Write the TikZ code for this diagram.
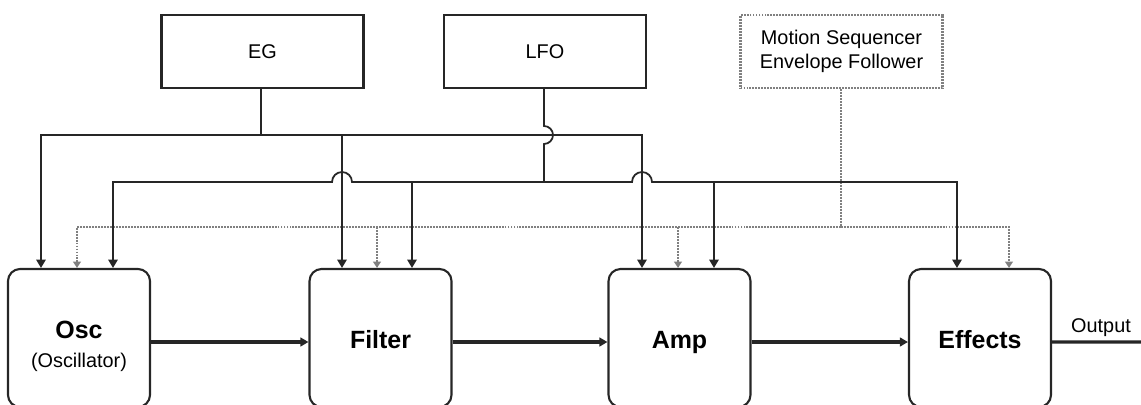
\documentclass[tikz,border=0pt]{standalone}
\usepackage{fontspec}
\setmainfont{Liberation Sans}
\usetikzlibrary{arrows.meta,calc}
\definecolor{dotgray}{HTML}{808080}
\begin{document}
\begin{tikzpicture}[x=0.02cm,y=-0.02cm,
  txt/.style={inner sep=0pt,font=\fontsize{11.3}{13.6}\selectfont},
  bigtxt/.style={inner sep=0pt,font=\fontsize{14.2}{17}\selectfont\bfseries},
  modbox/.style={draw=black!85,line width=1.2pt,minimum width=4.04cm,minimum height=1.46cm,inner sep=0pt,align=center,font=\fontsize{11.3}{13.6}\selectfont},
  motbox/.style={modbox,draw=dotgray,line width=1.4pt,dash pattern=on 1.1pt off 0.6pt},
  blk/.style={draw=black!85,rounded corners=0.24cm,line width=1.2pt,minimum width=2.84cm,minimum height=2.76cm,inner sep=0pt},
  ctl/.style={draw=black!85,line width=1pt},
  ctlarr/.style={ctl,-{Triangle[length=4.8pt,width=5.4pt]}},
  mot/.style={draw=dotgray,line width=1.4pt,dash pattern=on 1.1pt off 0.6pt},
  motarr/.style={mot,-{Triangle[length=3.6pt,width=4.4pt]}},
  sig/.style={draw=black!85,line width=1.8pt},
  sigarr/.style={sig,-{Triangle[length=4.6pt,width=5pt]}}
]
\useasboundingbox (0,0) rectangle (1141,405);
\clip (0,0) rectangle (1141,405);

% source boxes
\node[modbox] (eg) at (262.5,51.5) {EG};
\node[modbox] (lfo) at (545,51.5) {LFO};
\node[motbox] (ms) at (841.5,51.5) {Motion Sequencer\\Envelope Follower};

% signal blocks
\node[blk] (osc) at (79,338) {};
\node[blk] (filter) at (380.5,338) {};
\node[blk] (amp) at (679.5,338) {};
\node[blk] (effects) at (980,338) {};

\node[bigtxt,anchor=base] (osct) at (79,338) {Osc};
\node[txt,anchor=base] (osct2) at (79,367) {(Oscillator)};
\node[bigtxt,anchor=base] (filtert) at (380.5,348) {Filter};
\node[bigtxt,anchor=base] (ampt) at (679.5,348) {Amp};
\node[bigtxt,anchor=base] (effectst) at (980,348) {Effects};
\node[txt,anchor=base] (outt) at (1101,332) {Output};

% coordinates
\coordinate (ej) at (261,135);
\coordinate (e1) at (41,135);
\coordinate (e2) at (342,135);
\coordinate (e3) at (642,135);
\coordinate (l0) at (544,182);
\coordinate (l1) at (113,182);
\coordinate (l2) at (412,182);
\coordinate (l3) at (714,182);
\coordinate (l4) at (957,182);
\coordinate (m0) at (841,227);
\coordinate (m1) at (77,227);
\coordinate (m2) at (377,227);
\coordinate (m3) at (678,227);
\coordinate (m4) at (1009,227);
\coordinate (outend) at (1141,342);

% motion sequencer (dotted) bus
\draw[mot] (m0 |- ms.south) -- (m0);
\draw[motarr] (m0) -- (m1) -- (m1 |- osc.north);
\draw[motarr] (m0) -- (m4) -- (m4 |- effects.north);
\draw[motarr] (m2) -- (m2 |- filter.north);
\draw[motarr] (m3) -- (m3 |- amp.north);

% EG bus
\draw[ctl] (ej |- eg.south) -- (ej);
\draw[ctlarr] (ej) -- (e1) -- (e1 |- osc.north);
\draw[ctlarr] (ej) -- (e3) -- (e3 |- amp.north);
\draw[ctlarr] (e2) -- (e2 |- filter.north);

% LFO bus
\draw[ctl] (l0 |- lfo.south) -- (544,126) arc[start angle=90,end angle=-90,radius=0.18cm] -- (l0);
\draw[ctlarr] (l0) -- (352,182) arc[start angle=0,end angle=180,radius=0.2cm] -- (l1) -- (l1 |- osc.north);
\draw[ctlarr] (l0) -- (632,182) arc[start angle=180,end angle=0,radius=0.2cm] -- (l4) -- (l4 |- effects.north);
\draw[ctlarr] (l2) -- (l2 |- filter.north);
\draw[ctlarr] (l3) -- (l3 |- amp.north);

% signal path
\draw[sigarr] ([yshift=-0.08cm]osc.east) -- ([yshift=-0.08cm]filter.west);
\draw[sigarr] ([yshift=-0.08cm]filter.east) -- ([yshift=-0.08cm]amp.west);
\draw[sigarr] ([yshift=-0.08cm]amp.east) -- ([yshift=-0.08cm]effects.west);
\draw[sig] ([yshift=-0.08cm]effects.east) -- (outend);
\end{tikzpicture}
\end{document}
